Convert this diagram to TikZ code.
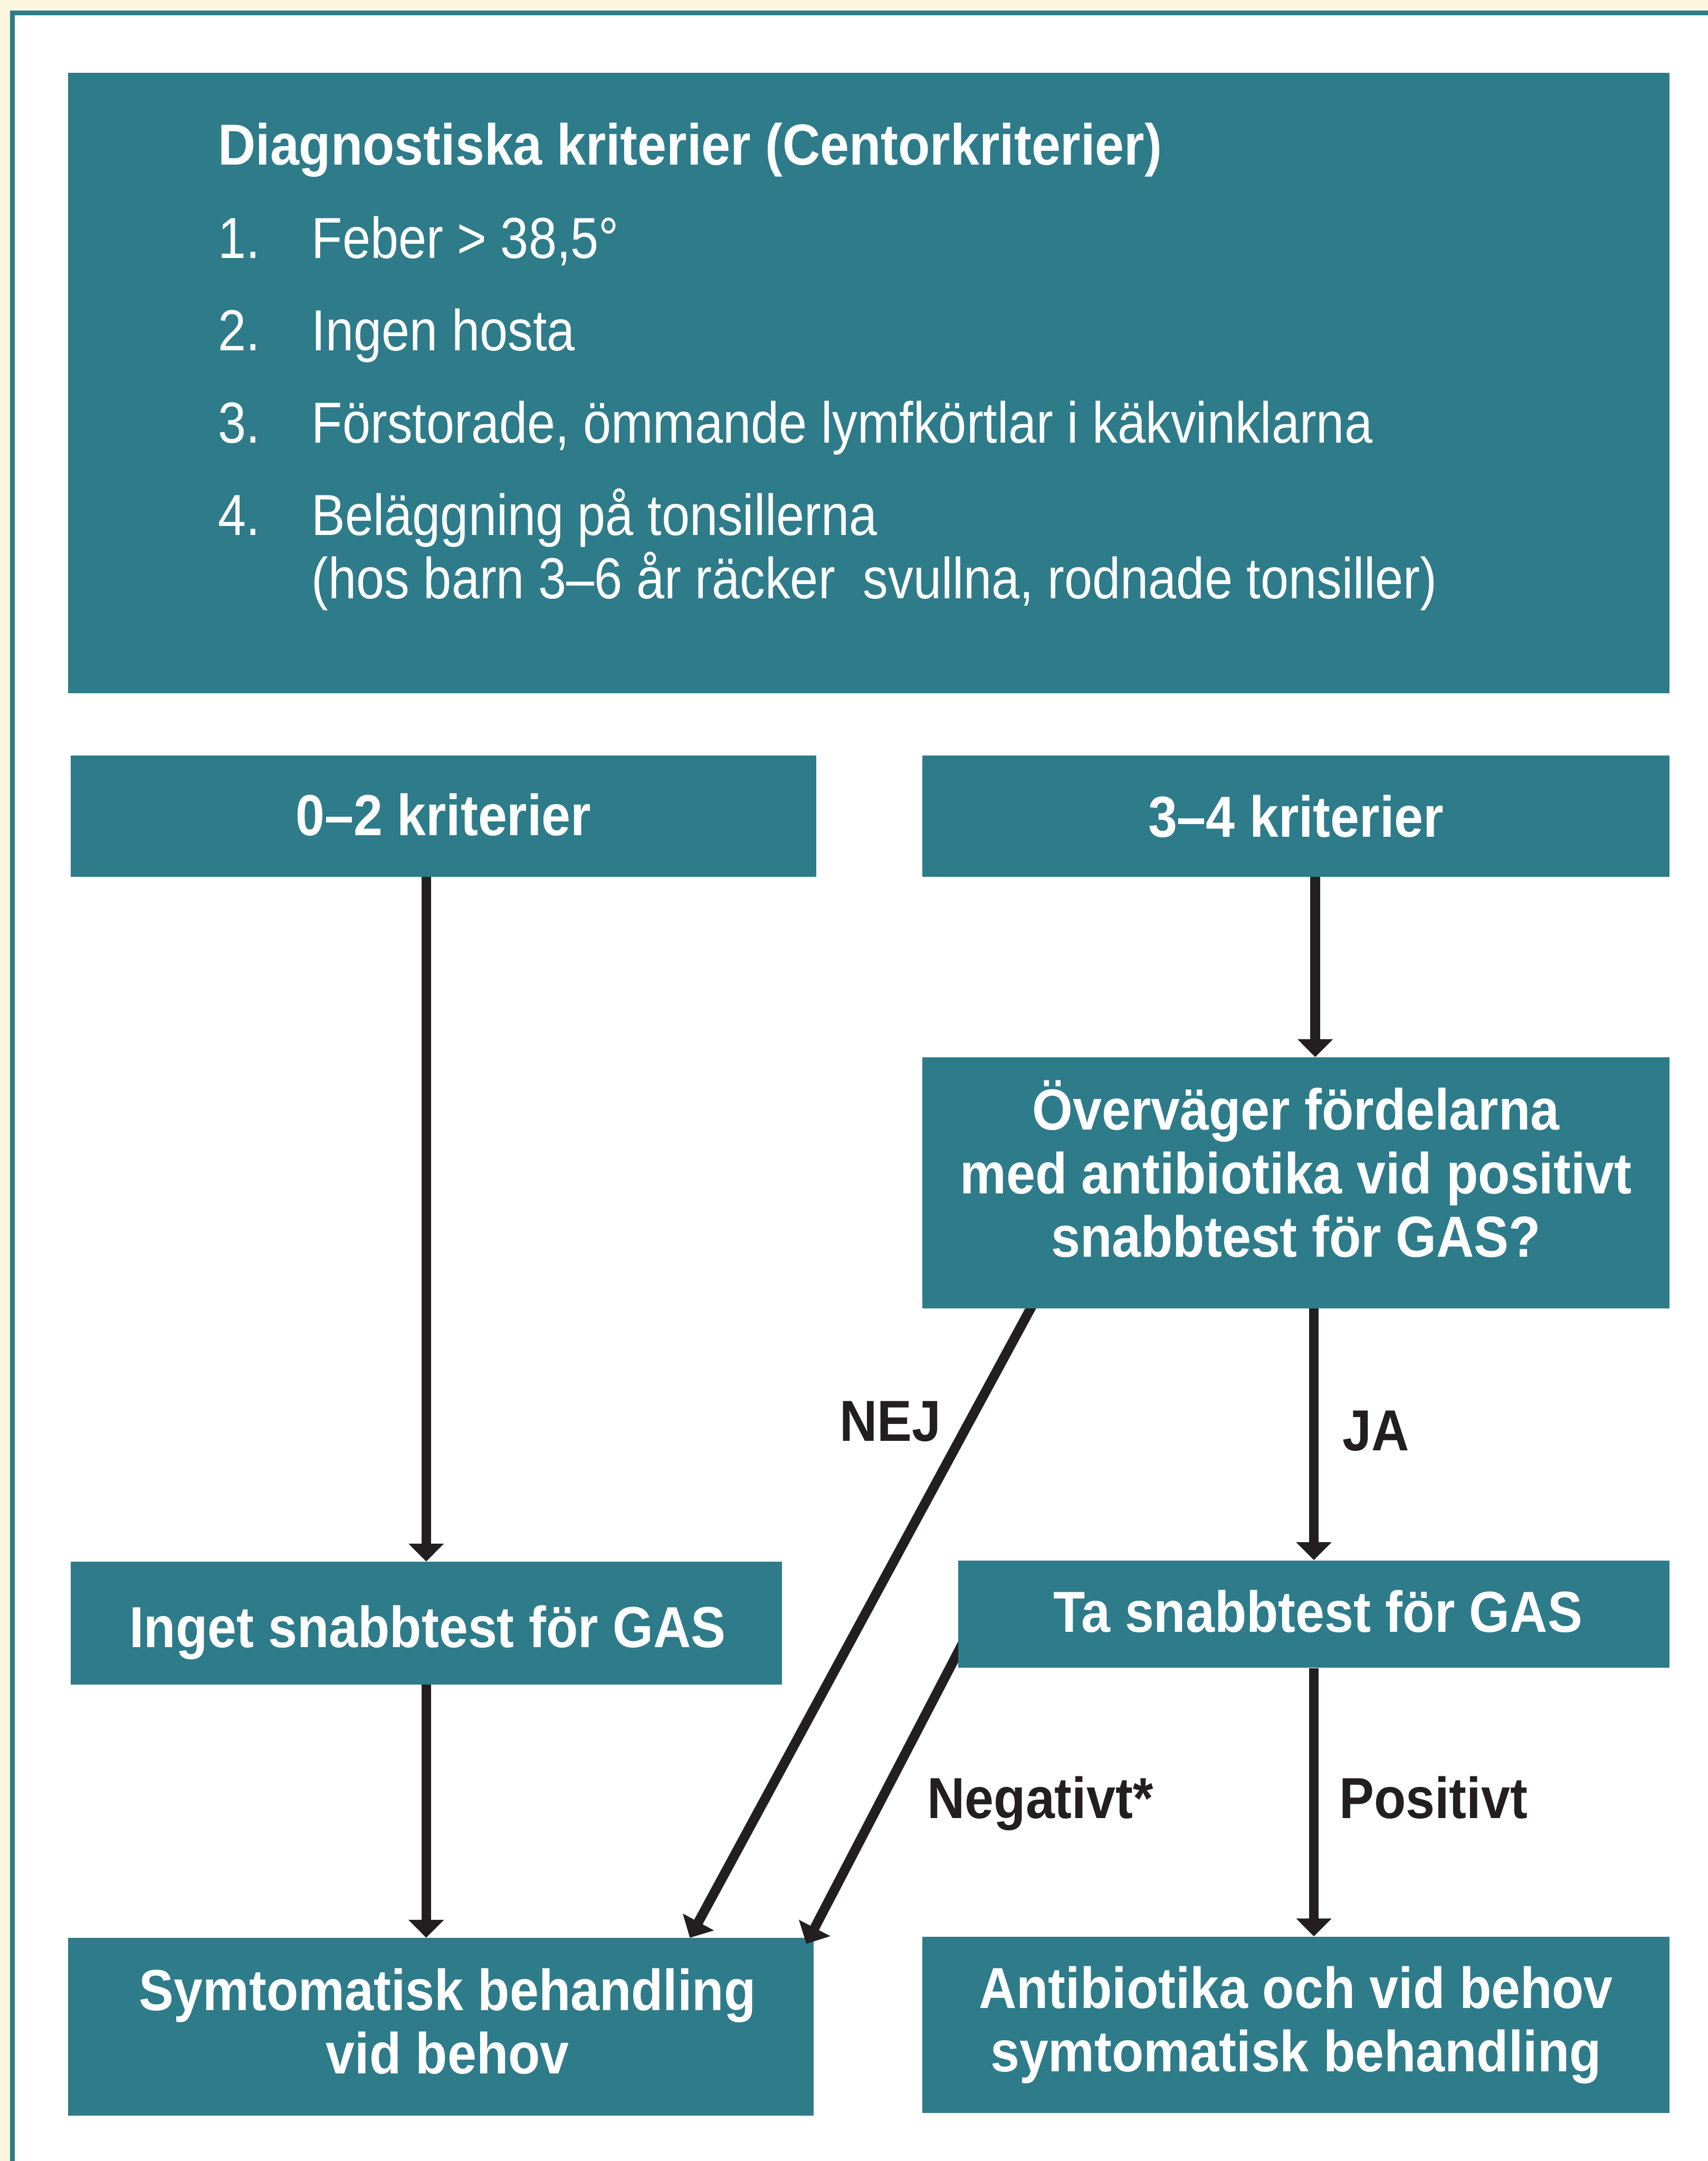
\documentclass[tikz,border=0pt]{standalone}
\usepackage{fontspec}
\setmainfont{Liberation Sans}[FakeStretch=0.87]
\newfontfamily\boldfam{Liberation Sans}[FakeStretch=0.9]
\usetikzlibrary{arrows.meta}
\definecolor{boxteal}{RGB}{46,123,138}
\definecolor{creambg}{RGB}{250,247,222}
\definecolor{arrowblack}{RGB}{35,31,32}
\pgfdeclarelayer{bg}
\pgfdeclarelayer{arr}
\pgfdeclarelayer{front}
\pgfsetlayers{bg,main,arr,front}
\begin{document}
\begin{tikzpicture}[x=1pt,y=-1pt,
  box/.style={fill=boxteal, draw=none, inner sep=0pt, anchor=north west},
  boxtext/.style={text=white, inner sep=0pt, align=center,
    font=\boldfam\bfseries\fontsize{42}{46}\selectfont},
  titletext/.style={text=white, inner sep=0pt, anchor=base west,
    font=\boldfam\bfseries\fontsize{42}{46}\selectfont},
  itemtext/.style={text=white, inner sep=0pt, anchor=base west,
    font=\fontsize{42}{46}\selectfont},
  lbl/.style={text=arrowblack, inner sep=0pt, anchor=base west,
    font=\boldfam\bfseries\fontsize{42}{46}\selectfont},
  arrowline/.style={draw=arrowblack, line width=7pt, -{Triangle[length=13pt,width=25pt]}}]
\useasboundingbox (0,0) rectangle (1239,1568);
\begin{pgfonlayer}{bg}
  \fill[creambg] (0,0) rectangle (1239,1568);
  \fill[boxteal] (7.2,7.7) rectangle (1239,1568);
  \fill[white] (10.9,11.2) rectangle (1239,1568);
\end{pgfonlayer}

% criteria box
\node[box, minimum width=1162pt, minimum height=450.4pt] (top) at (49.1,52.6) {};
\node[titletext] (title) at (158,119.5) {Diagnostiska kriterier (Centorkriterier)};
\node[itemtext] (n1) at (158,187.5) {1.};
\node[itemtext] (i1) at (226,187.5) {Feber > 38,5°};
\node[itemtext] (n2) at (158,254.5) {2.};
\node[itemtext] (i2) at (226,254.5) {Ingen hosta};
\node[itemtext] (n3) at (158,321.5) {3.};
\node[itemtext] (i3) at (226,321.5) {Förstorade, ömmande lymfkörtlar i käkvinklarna};
\node[itemtext] (n4) at (158,388.5) {4.};
\node[itemtext] (i4) at (226,388.5) {Beläggning på tonsillerna};
\node[itemtext] (i4b) at (226,434.3) {(hos barn 3–6 år räcker\ \ svullna, rodnade tonsiller)};

% flow boxes
\node[box, minimum width=541pt, minimum height=88pt] (A) at (51,548) {};
\node[boxtext, yshift=1pt] (At) at (A.center) {0–2 kriterier};
\node[box, minimum width=542pt, minimum height=88pt] (B) at (669,548) {};
\node[boxtext, yshift=0pt] (Bt) at (B.center) {3–4 kriterier};
\node[box, minimum width=516pt, minimum height=89pt] (D) at (51,1133) {};
\node[boxtext, yshift=-7pt, xshift=1pt] (Dt) at (D.center) {Inget snabbtest för GAS};
\node[box, minimum width=541pt, minimum height=129pt] (F) at (49,1406) {};
\node[boxtext, yshift=4pt, xshift=5pt] (Ft) at (F.center) {Symtomatisk behandling\\vid behov};
\node[box, minimum width=542pt, minimum height=128pt] (G) at (669,1405) {};
\node[boxtext] (Gt) at (G.center) {Antibiotika och vid behov\\symtomatisk behandling};
\begin{pgfonlayer}{front}
  \node[box, minimum width=542pt, minimum height=182pt] (C) at (669,767) {};
  \node[boxtext, yshift=10pt] (Ct) at (C.center) {Överväger fördelarna\\med antibiotika vid positivt\\snabbtest för GAS?};
  \node[box, minimum width=516pt, minimum height=78pt] (E) at (695,1132) {};
  \node[boxtext, yshift=2pt, xshift=3pt] (Et) at (E.center) {Ta snabbtest för GAS};
\end{pgfonlayer}

% connectors
\begin{pgfonlayer}{arr}
  \draw[arrowline] (A.south -| D.north) -- (D.north);
  \draw[arrowline] (D.south) -- (D.south |- F.north);
  \draw[arrowline] ([xshift=14pt]B.south) -- ([xshift=14pt]B.south |- C.north);
  \draw[arrowline] (C.south -| E.north) -- (E.north);
  \draw[arrowline] (E.south) -- (E.south |- G.north);
  \draw[arrowline] ([shift={(83.6,-9)}]C.south west) -- ([shift={(451.5,0)}]F.north west);
  \draw[arrowline] ([shift={(9.2,-29.2)}]E.south west) -- ([shift={(-5.4,4.4)}]F.north east);
\end{pgfonlayer}

% connector labels
\node[lbl] (nej) at (609,1045.6) {NEJ};
\node[lbl] (ja) at (973.7,1052.5) {JA};
\node[lbl] (neg) at (672.6,1319.5) {Negativt*};
\node[lbl] (pos) at (971.5,1319.5) {Positivt};
\end{tikzpicture}
\end{document}
